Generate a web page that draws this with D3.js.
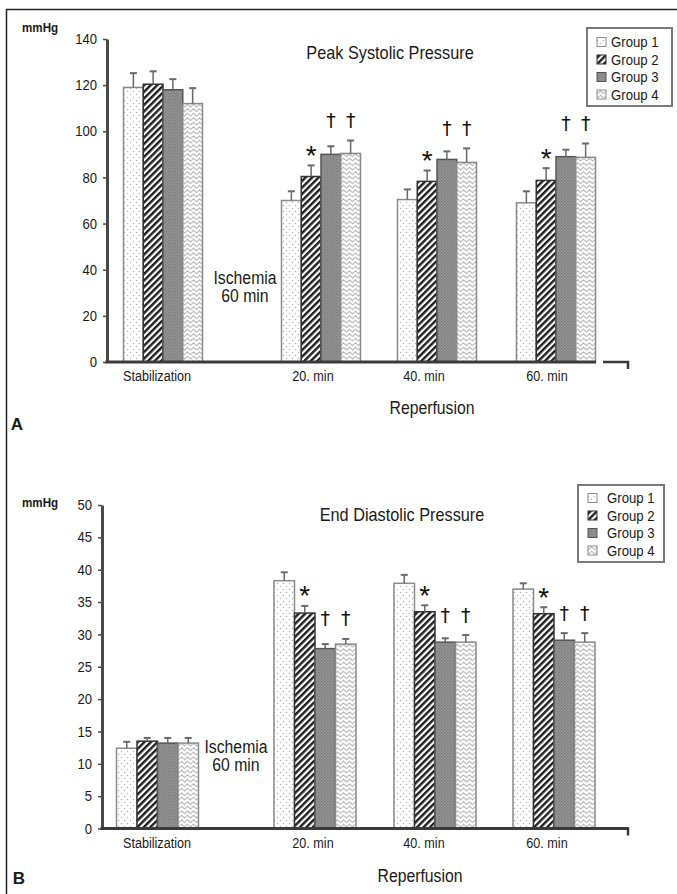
<!DOCTYPE html>
<html>
<head>
<meta charset="utf-8">
<script src="https://cdn.jsdelivr.net/npm/d3@7"></script>
<style>
  body { margin: 0; background: #fff; }
  svg text { font-family: "Liberation Sans", Arial, sans-serif; fill: #1a1a1a; }
</style>
</head>
<body>
<script>
// ---- data ----
const categories = ["Stabilization", "20. min", "40. min", "60. min"];
const groups = ["Group 1", "Group 2", "Group 3", "Group 4"];

// peak systolic pressure (mmHg), one row per category, one value per group
const systolicMean = [
  [119, 120.4, 118, 112],
  [70, 80.4, 90, 90.4],
  [70.4, 78.3, 87.8, 86.5],
  [69, 78.7, 89, 88.7]
];
const systolicErr = [
  [6.2, 5.6, 4.6, 6.7],
  [4, 4.8, 3.5, 5.6],
  [4.4, 4.7, 3.5, 6.1],
  [5, 5.3, 3, 6]
];
const systolicTicks = [0, 20, 40, 60, 80, 100, 120, 140];

// end diastolic pressure (mmHg)
const diastolicMean = [
  [12.4, 13.5, 13.2, 13.2],
  [38.3, 33.3, 27.8, 28.5],
  [37.9, 33.5, 28.8, 28.8],
  [37.0, 33.2, 29.1, 28.8]
];
const diastolicErr = [
  [1.0, 0.5, 0.8, 0.8],
  [1.3, 1.1, 0.7, 0.8],
  [1.3, 1.0, 0.6, 1.1],
  [0.9, 1.0, 1.1, 1.4]
];
const diastolicTicks = [0, 5, 10, 15, 20, 25, 30, 35, 40, 45, 50];

// significance marks: [category, group, symbol]
const systolicMarks = [
  ["20. min", "Group 2", "*"], ["20. min", "Group 3", "†"], ["20. min", "Group 4", "†"],
  ["40. min", "Group 2", "*"], ["40. min", "Group 3", "†"], ["40. min", "Group 4", "†"],
  ["60. min", "Group 2", "*"], ["60. min", "Group 3", "†"], ["60. min", "Group 4", "†"]
];
const diastolicMarks = [
  ["20. min", "Group 2", "*"], ["20. min", "Group 3", "†"], ["20. min", "Group 4", "†"],
  ["40. min", "Group 2", "*"], ["40. min", "Group 3", "†"], ["40. min", "Group 4", "†"],
  ["60. min", "Group 2", "*"], ["60. min", "Group 3", "†"], ["60. min", "Group 4", "†"]
];

let width = 677, height = 894;

let svg = d3.select("body").append("svg")
  .attr("width", width)
  .attr("height", height);

// no condensed font installed, so squeeze glyphs horizontally
function squeeze(sel, f) {
  sel.each(function () {
    let w = this.getComputedTextLength();
    d3.select(this).attr("textLength", w * f).attr("lengthAdjust", "spacingAndGlyphs");
  });
}

// ---- fill patterns ----
let defs = svg.append("defs");

let p1 = defs.append("pattern").attr("id", "pat1").attr("patternUnits", "userSpaceOnUse")
  .attr("width", 6).attr("height", 6);
p1.append("rect").attr("width", 6).attr("height", 6).attr("fill", "#fff");
p1.append("circle").attr("cx", 1.5).attr("cy", 1.5).attr("r", 0.75).attr("fill", "#b5b5b5");
p1.append("circle").attr("cx", 4.5).attr("cy", 4.5).attr("r", 0.75).attr("fill", "#b5b5b5");

let p2 = defs.append("pattern").attr("id", "pat2").attr("patternUnits", "userSpaceOnUse")
  .attr("width", 4.6).attr("height", 4.6).attr("patternTransform", "rotate(45)");
p2.append("rect").attr("width", 4.6).attr("height", 4.6).attr("fill", "#fff");
p2.append("rect").attr("width", 2.4).attr("height", 4.6).attr("fill", "#1e1e1e");

let p3 = defs.append("pattern").attr("id", "pat3").attr("patternUnits", "userSpaceOnUse")
  .attr("width", 3).attr("height", 3);
p3.append("rect").attr("width", 3).attr("height", 3).attr("fill", "#949494");
p3.append("rect").attr("width", 1.5).attr("height", 1.5).attr("fill", "#7c7c7c");
p3.append("rect").attr("x", 1.5).attr("y", 1.5).attr("width", 1.5).attr("height", 1.5).attr("fill", "#868686");

let p4 = defs.append("pattern").attr("id", "pat4").attr("patternUnits", "userSpaceOnUse")
  .attr("width", 6).attr("height", 4.5);
p4.append("rect").attr("width", 6).attr("height", 4.5).attr("fill", "#fff");
p4.append("path").attr("d", "M0,2.2 L1.5,0.9 L3,2.2 L4.5,3.5 L6,2.2")
  .attr("fill", "none").attr("stroke", "#a8a8a8").attr("stroke-width", 1);

let fills = d3.scaleOrdinal(groups, ["url(#pat1)", "url(#pat2)", "url(#pat3)", "url(#pat4)"]);
let strokes = d3.scaleOrdinal(groups, ["#8a8a8a", "#333", "#555", "#8a8a8a"]);

// outer frame (top + left only)
svg.append("line").attr("x1", 6).attr("y1", 9.5).attr("x2", width).attr("y2", 9.5)
  .attr("stroke", "#222").attr("stroke-width", 1.5);
svg.append("line").attr("x1", 6.5).attr("y1", 9).attr("x2", 6.5).attr("y2", height)
  .attr("stroke", "#222").attr("stroke-width", 1.5);

// x label positions are the same in both panels
let xLabel = d3.scaleOrdinal(categories, [157, 313, 424, 547]);

function drawPanel(cfg, means, errs, ticks, marks) {
  let g = svg.append("g");

  let y = d3.scaleLinear().domain([0, d3.max(ticks)]).range([cfg.y0, cfg.yTop]);
  let xc = d3.scaleOrdinal(categories, cfg.centers);
  let xg = d3.scaleBand().domain(groups).range([-cfg.groupW / 2, cfg.groupW / 2]).padding(0);

  // flatten into bar records
  let bars = [];
  categories.forEach((c, i) => groups.forEach((gr, j) => {
    bars.push({ cat: c, grp: gr, v: means[i][j], e: errs[i][j] });
  }));

  // bars
  g.selectAll("rect.bar").data(bars).join("rect")
    .attr("class", "bar")
    .attr("x", d => xc(d.cat) + xg(d.grp))
    .attr("y", d => y(d.v))
    .attr("width", xg.bandwidth())
    .attr("height", d => y(0) - y(d.v))
    .attr("fill", d => fills(d.grp))
    .attr("stroke", d => strokes(d.grp))
    .attr("stroke-width", 1.5);

  // error bars (upper only)
  let eb = g.selectAll("g.err").data(bars).join("g").attr("class", "err");
  eb.append("line")
    .attr("x1", d => xc(d.cat) + xg(d.grp) + xg.bandwidth() / 2)
    .attr("x2", d => xc(d.cat) + xg(d.grp) + xg.bandwidth() / 2)
    .attr("y1", d => y(d.v))
    .attr("y2", d => y(d.v + d.e))
    .attr("stroke", "#6a6a6a").attr("stroke-width", 1.5);
  eb.append("line")
    .attr("x1", d => xc(d.cat) + xg(d.grp) + xg.bandwidth() / 2 - 3.5)
    .attr("x2", d => xc(d.cat) + xg(d.grp) + xg.bandwidth() / 2 + 3.5)
    .attr("y1", d => y(d.v + d.e))
    .attr("y2", d => y(d.v + d.e))
    .attr("stroke", "#6a6a6a").attr("stroke-width", 2);

  // y axis
  let ax = g.append("g")
    .attr("transform", "translate(" + cfg.axisX + ",0)")
    .call(d3.axisLeft(y).tickValues(ticks).tickSize(4).tickSizeOuter(0).tickPadding(6));
  ax.select(".domain").attr("stroke", "#4a4a4a").attr("stroke-width", 3);
  ax.selectAll(".tick line").attr("stroke", "#4a4a4a").attr("stroke-width", 1.5);
  ax.selectAll(".tick text").attr("font-size", 14.5).attr("fill", "#1a1a1a")
    .style("font-family", "'Liberation Sans', Arial, sans-serif")
    .call(squeeze, 0.9);

  // x axis line
  g.append("line").attr("x1", cfg.axisX - 1.5).attr("x2", cfg.xEnd)
    .attr("y1", y(0)).attr("y2", y(0))
    .attr("stroke", "#3a3a3a").attr("stroke-width", 3);
  g.append("path")
    .attr("d", "M" + cfg.bracket[0] + "," + y(0) + " H" + cfg.bracket[1] + " V" + (y(0) + 7))
    .attr("fill", "none").attr("stroke", "#3a3a3a").attr("stroke-width", 2.5);

  // category labels
  g.selectAll("text.cat").data(categories).join("text")
    .attr("class", "cat")
    .attr("x", d => xLabel(d))
    .attr("y", cfg.xLabelY)
    .attr("dy", "0.35em")
    .attr("text-anchor", "middle")
    .attr("font-size", 14)
    .text(d => d)
    .call(squeeze, 0.9);

  // significance marks
  let markData = marks.map(m => {
    let i = categories.indexOf(m[0]);
    let j = groups.indexOf(m[1]);
    let top;
    if (m[2] === "*") {
      top = y(means[i][j] + errs[i][j]) - 17;
    } else {
      // daggers in one category sit at the same height
      let tops = marks.filter(k => k[0] === m[0] && k[2] === "†")
        .map(k => y(means[i][groups.indexOf(k[1])] + errs[i][groups.indexOf(k[1])]));
      top = d3.min(tops) - 20;
    }
    return { cat: m[0], grp: m[1], sym: m[2], cy: top };
  });
  g.selectAll("text.mark").data(markData).join("text")
    .attr("class", "mark")
    .attr("x", d => xc(d.cat) + xg(d.grp) + xg.bandwidth() / 2)
    .attr("y", d => d.sym === "*" ? d.cy + 16.5 : d.cy + 6.5)
    .attr("text-anchor", "middle")
    .attr("font-size", d => d.sym === "*" ? 28 : 19)
    .style("font-family", d => d.sym === "*" ? "'Liberation Sans', Arial, sans-serif" : "'DejaVu Sans', sans-serif")
    .style("fill", "#111")
    .text(d => d.sym);

  // unit
  g.append("text").attr("x", cfg.unit[0]).attr("y", cfg.unit[1]).attr("dy", "0.35em")
    .attr("font-size", 13.5).attr("font-weight", "bold").text("mmHg")
    .call(squeeze, 0.86);

  // title
  g.append("text").attr("x", cfg.title[0]).attr("y", cfg.title[1]).attr("dy", "0.35em")
    .attr("text-anchor", "middle").attr("font-size", 18.5).text(cfg.titleText)
    .call(squeeze, 0.88);

  // ischemia note
  let isc = g.append("text").attr("text-anchor", "middle").attr("font-size", 17.5);
  isc.append("tspan").attr("x", cfg.ischemia[0]).attr("y", cfg.ischemia[1]).attr("dy", "0.35em").text("Ischemia");
  isc.append("tspan").attr("x", cfg.ischemia[0]).attr("y", cfg.ischemia[1] + 18).attr("dy", "0.35em").text("60 min");
  isc.selectAll("tspan").call(squeeze, 0.9);

  // reperfusion
  g.append("text").attr("x", cfg.reperf[0]).attr("y", cfg.reperf[1]).attr("dy", "0.35em")
    .attr("text-anchor", "middle").attr("font-size", 17.5).text("Reperfusion")
    .call(squeeze, 0.9);

  // panel letter
  g.append("text").attr("x", cfg.letter[0]).attr("y", cfg.letter[1]).attr("dy", "0.35em")
    .attr("text-anchor", "middle").attr("font-size", 17).attr("font-weight", "bold")
    .text(cfg.letterText);

  // legend
  let lg = g.append("g").attr("transform", "translate(" + cfg.legend[0] + "," + cfg.legend[1] + ")");
  lg.append("rect").attr("width", cfg.legend[2]).attr("height", cfg.legend[3])
    .attr("fill", "#fff").attr("stroke", "#7a7a7a").attr("stroke-width", 2);
  let rows = lg.selectAll("g.row").data(groups).join("g").attr("class", "row")
    .attr("transform", (d, i) => "translate(0," + (cfg.legendRow0 + i * 17.5) + ")");
  rows.append("rect").attr("x", 10).attr("y", -4.5).attr("width", 9).attr("height", 9)
    .attr("fill", d => fills(d)).attr("stroke", d => strokes(d)).attr("stroke-width", 1);
  rows.append("text").attr("x", cfg.legendText).attr("dy", "0.35em")
    .attr("font-size", 15.5).text(d => d)
    .call(squeeze, 0.85);
}

// panel A
drawPanel({
  axisX: 107, y0: 362, yTop: 39,
  centers: [163, 321, 437, 556], groupW: 79,
  xEnd: 596, bracket: [603, 628], xLabelY: 376,
  unit: [22, 27], title: [390, 53], titleText: "Peak Systolic Pressure",
  ischemia: [245, 278], reperf: [432, 408],
  letter: [17, 424], letterText: "A",
  legend: [587, 28, 85, 78], legendRow0: 14, legendText: 24
}, systolicMean, systolicErr, systolicTicks, systolicMarks);

// panel B
drawPanel({
  axisX: 102, y0: 828.5, yTop: 505,
  centers: [157.5, 315, 435, 554], groupW: 82,
  xEnd: 628, bracket: [600, 628], xLabelY: 843,
  unit: [22, 502], title: [402, 515], titleText: "End Diastolic Pressure",
  ischemia: [236, 747], reperf: [420, 876],
  letter: [19, 878], letterText: "B",
  legend: [578, 485, 86, 77], legendRow0: 13, legendText: 29
}, diastolicMean, diastolicErr, diastolicTicks, diastolicMarks);
</script>
</body>
</html>
